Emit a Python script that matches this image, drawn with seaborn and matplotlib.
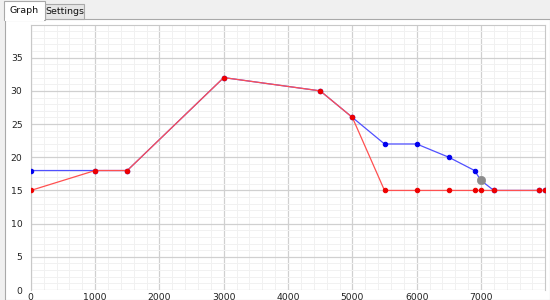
import matplotlib
matplotlib.use("Agg")
import matplotlib.pyplot as plt
from matplotlib.patches import Rectangle
from matplotlib.ticker import MultipleLocator
import seaborn as sns
import pandas as pd

# ---- data ----
blue_x = [0, 1000, 1500, 3000, 4500, 5000, 5500, 6000, 6500, 6900, 7000, 7200, 7900, 8000]
blue_y = [18, 18, 18, 32, 30, 26, 22, 22, 20, 18, 16.5, 15, 15, 15]
red_x = [0, 1000, 1500, 3000, 4500, 5000, 5500, 6000, 6500, 6900, 7000, 7200, 7900, 8000]
red_y = [15, 18, 18, 32, 30, 26, 15, 15, 15, 15, 15, 15, 15, 15]
sel_x = [7000]
sel_y = [16.5]
x_ticks = [0, 1000, 2000, 3000, 4000, 5000, 6000, 7000]
y_ticks = [0, 5, 10, 15, 20, 25, 30, 35]
tab_labels = ["Graph", "Settings"]

sns.set_style("white")
plt.rcParams["font.family"] = ["DejaVu Sans"]

W, H = 550, 300
fig = plt.figure(figsize=(W / 100, H / 100), dpi=100, facecolor="#f0f0f0")


def fx(px):
    return px / W


def fy(py):
    return 1 - py / H


# tab pane
fig.patches.append(Rectangle((fx(5), 0), fx(550) - fx(5), fy(19), transform=fig.transFigure,
                             facecolor="white", edgecolor="#a9a9a9", linewidth=0.8, zorder=0))
# Settings tab (inactive)
fig.patches.append(Rectangle((fx(45), fy(19)), fx(84) - fx(45), fy(4) - fy(19), transform=fig.transFigure,
                             facecolor="#e6e6e6", edgecolor="#a9a9a9", linewidth=0.8, zorder=1))
# Graph tab (active)
fig.patches.append(Rectangle((fx(4), fy(20)), fx(45) - fx(4), fy(1) - fy(20), transform=fig.transFigure,
                             facecolor="white", edgecolor="#a9a9a9", linewidth=0.8, zorder=2))
fig.patches.append(Rectangle((fx(4.6), fy(20.5)), fx(44.4) - fx(4.6), fy(18) - fy(20.5), transform=fig.transFigure,
                             facecolor="white", edgecolor="none", zorder=3))
fig.text(fx(24.5), fy(10.5), tab_labels[0], ha="center", va="center", fontsize=6.8, color="#111111", zorder=4)
fig.text(fx(64.5), fy(12), tab_labels[1], ha="center", va="center", fontsize=6.8, color="#111111", zorder=4)

ax = fig.add_axes([fx(30.8), fy(290), fx(545.3) - fx(30.8), fy(24.5) - fy(290)])
ax.set_zorder(10)
ax.set_facecolor("white")

df_b = pd.DataFrame({"x": blue_x, "y": blue_y})
df_r = pd.DataFrame({"x": red_x, "y": red_y})

sns.lineplot(data=df_b, x="x", y="y", ax=ax, sort=False, estimator=None, color="#5050ff",
             linewidth=0.9, marker="o", markersize=3.2, markerfacecolor="#0000ee",
             markeredgecolor="#0000ee", zorder=3)
sns.lineplot(data=df_r, x="x", y="y", ax=ax, sort=False, estimator=None, color="#ff5050",
             linewidth=0.9, marker="o", markersize=3.2, markerfacecolor="#ee0000",
             markeredgecolor="#ee0000", zorder=4)
sns.scatterplot(x=sel_x, y=sel_y, ax=ax, s=36, color="#8c8c8c", edgecolor="#8c8c8c", zorder=5)

ax.set_xlim(0, 8000)
ax.set_ylim(0, 40)
ax.set_xticks(x_ticks)
ax.set_yticks(y_ticks)
ax.xaxis.set_minor_locator(MultipleLocator(200))
ax.yaxis.set_minor_locator(MultipleLocator(1))
ax.grid(True, which="major", color="#d0d0d0", linewidth=0.9, zorder=0)
ax.grid(True, which="minor", color="#f1f1f1", linewidth=0.7, zorder=0)
ax.set_axisbelow(True)
ax.tick_params(axis="both", which="both", length=0, labelsize=6.7, labelcolor="#222222")
ax.tick_params(axis="y", pad=6)
ax.tick_params(axis="x", pad=2.0)
ax.set_xlabel("")
ax.set_ylabel("")
for s in ax.spines.values():
    s.set_color("#c8c8c8")
    s.set_linewidth(0.8)
ax.spines["bottom"].set_visible(False)

fig.savefig("out.png", dpi=100, facecolor=fig.get_facecolor())
